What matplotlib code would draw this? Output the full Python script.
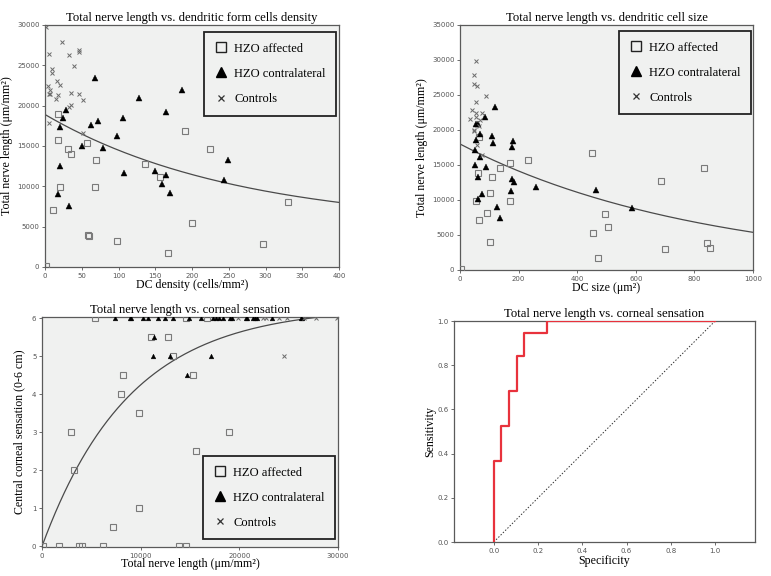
import numpy as np
import matplotlib
matplotlib.use("Agg")
import matplotlib.pyplot as plt
from matplotlib.lines import Line2D

# ---------------- Data ----------------
# Panel 1: DC density vs total nerve length
p1_ctrl_x = [2, 5, 23, 9, 9, 33, 46, 46, 39, 4.5, 7, 5, 7, 16, 20, 17, 15, 35, 46, 35, 33, 52, 6, 51]
p1_ctrl_y = [29800, 26400, 27900, 24600, 24100, 26300, 26900, 26600, 24900, 22400, 21900, 21400, 21400,
             23000, 22500, 21300, 20800, 21600, 21400, 20100, 19800, 20700, 17800, 16600]
p1_contra_x = [68, 186, 128, 164, 28.6, 25, 106.6, 72, 62.6, 21, 98, 50, 78.5, 249, 21, 107.5, 150, 164,
               159, 243, 170, 17.7, 32]
p1_contra_y = [23400, 21900, 21000, 19200, 19500, 18500, 18500, 18100, 17600, 17300, 16200, 15000, 14800,
               13300, 12500, 11600, 11900, 11400, 10300, 10800, 9150, 9000, 7500]
p1_aff_x = [17, 191, 17, 57, 31, 36, 224.5, 69, 136.5, 157, 20, 68, 11, 331, 200, 58.5, 59.4, 98, 296.6, 167, 1]
p1_aff_y = [19000, 16800, 15700, 15400, 14600, 14000, 14600, 13300, 12800, 11100, 9900, 9900, 7100, 8000,
            5400, 4000, 3800, 3200, 2900, 1700, 100]
p1_fit = dict(c=5000, a=13900, k=0.00383)   # y = c + a*exp(-k x)

# Panel 2: DC size vs total nerve length
p2_ctrl_x = [55, 48, 48, 58, 89, 56, 42, 55, 76, 35, 53, 69, 64, 47, 47, 59, 76]
p2_ctrl_y = [29900, 27800, 26500, 26300, 24800, 24000, 22900, 22400, 22400, 21500, 21900, 21400, 20600,
             20000, 19800, 17800, 16400]
p2_contra_x = [121, 86.5, 56, 62, 68, 108, 56, 114, 182, 176, 52, 68, 51, 87.6, 62.6, 176, 184, 260.5, 174,
               463, 76, 61, 127, 587, 136.5]
p2_contra_y = [23300, 21800, 20900, 20800, 19400, 19100, 18500, 18100, 18400, 17500, 17200, 16200, 15000,
               14700, 13300, 13000, 12500, 11900, 11300, 11400, 10800, 10200, 9000, 8900, 7400]
p2_aff_x = [66, 449, 232, 169.5, 135, 833, 61, 109, 686, 101, 56, 172, 93, 496, 65, 505, 454, 101, 843, 852,
            698.5, 471, 2]
p2_aff_y = [19000, 16700, 15700, 15300, 14600, 14600, 13900, 13300, 12700, 11000, 9800, 9900, 8100, 8000,
            7100, 6100, 5300, 4000, 3800, 3100, 3000, 1700, 100]
p2_fit = dict(a=18000, k=0.0012077)          # y = a*exp(-k x)

# Panel 3: total nerve length vs corneal sensation
p3_aff_x = [5360, 14600, 16690, 11020, 12740, 13320, 8160, 15340, 7960, 9880, 2970, 18980, 15640, 3200,
            9840, 7150, 100, 1750, 3780, 4010, 6170, 13920, 14600]
p3_aff_y = [6, 6, 6, 5.5, 5.5, 5, 4.5, 4.5, 4, 3.5, 3, 3, 2.5, 2, 1, 0.5, 0, 0, 0, 0, 0, 0, 0]
p3_contra_x = [7420, 8870, 9030, 10210, 10720, 11760, 12440, 13250, 14870, 16080, 17360, 17630, 17900,
               18300, 19050, 19280, 20630, 20800, 21410, 21610, 21740, 23260, 26230, 26330,
               11390, 11290, 12980, 17160, 14660]
p3_contra_y = [6] * 24 + [5.5, 5, 5, 5, 4.5]
p3_ctrl_x = [19820, 22420, 22750, 24040, 24840, 26530, 27810, 29900, 24540]
p3_ctrl_y = [6, 6, 6, 6, 6, 6, 6, 6, 5]
p3_fit = dict(a=6.3, k=1.121e-4)             # y = a*(1-exp(-k x))

# Panel 4: ROC curve
roc_fpr = [0, 0, 0.034, 0.069, 0.103, 0.138, 0.241, 1.0]
roc_tpr = [0, 0.368, 0.526, 0.684, 0.842, 0.947, 1.0, 1.0]

legend_labels = ["HZO affected", "HZO contralateral", "Controls"]

# ---------------- Style ----------------
SERIF = "Liberation Serif"
BG = "#f0f1f0"
SPINE = "#5a5a5a"
TICKC = "#555555"

fig = plt.figure(figsize=(7.71, 5.76), dpi=100)


def style_axes(ax, bg=BG):
    ax.set_facecolor(bg)
    for s in ax.spines.values():
        s.set_color(SPINE)
        s.set_linewidth(0.9)
    ax.tick_params(axis="both", labelsize=5, colors=TICKC, length=2.5, width=0.6, pad=1.5)
    for lab in ax.get_xticklabels() + ax.get_yticklabels():
        lab.set_fontfamily("DejaVu Sans")


def scatter3(ax, ax_x, ax_y, co_x, co_y, ct_x, ct_y, sq=4.2, tri=3.8, xs=3.0):
    ax.plot(ax_x, ax_y, ls="none", marker="s", ms=sq, mfc="none", mec="#7a7a7a", mew=0.8, zorder=3)
    ax.plot(co_x, co_y, ls="none", marker="^", ms=tri, mfc="black", mec="black", mew=0.3, zorder=3)
    ax.plot(ct_x, ct_y, ls="none", marker="x", ms=xs, mec="#6a6a6a", mew=0.7, zorder=3)


def add_legend(ax, anchor):
    handles = [
        Line2D([], [], ls="none", marker="s", ms=6.5, mfc="none", mec="#222222", mew=1.0),
        Line2D([], [], ls="none", marker="^", ms=7.5, mfc="black", mec="black"),
        Line2D([], [], ls="none", marker="x", ms=5, mec="#333333", mew=0.9),
    ]
    leg = ax.legend(handles, legend_labels, loc="upper left", bbox_to_anchor=anchor,
                    prop={"family": SERIF, "size": 9}, frameon=True, fancybox=False,
                    borderpad=0.85, labelspacing=1.05, handletextpad=0.55, handlelength=1.0,
                    borderaxespad=0)
    fr = leg.get_frame()
    fr.set_edgecolor("#222222")
    fr.set_linewidth(1.3)
    fr.set_facecolor(BG)
    fr.set_alpha(1)
    return leg


title_kw = dict(fontfamily=SERIF, fontsize=9.1, pad=3)
label_kw = dict(fontfamily=SERIF, fontsize=8.6)

# ---- Panel 1 ----
ax1 = fig.add_axes([0.0584, 0.5365, 0.3813, 0.4201])
scatter3(ax1, p1_aff_x, p1_aff_y, p1_contra_x, p1_contra_y, p1_ctrl_x, p1_ctrl_y)
xx = np.linspace(0, 400, 300)
ax1.plot(xx, p1_fit["c"] + p1_fit["a"] * np.exp(-p1_fit["k"] * xx), color="#4a4a4a", lw=0.9, zorder=2)
ax1.set_xlim(0, 400)
ax1.set_ylim(0, 30000)
ax1.set_xticks(np.arange(0, 401, 50))
ax1.set_yticks(np.arange(0, 30001, 5000))
style_axes(ax1)
ax1.set_title("Total nerve length vs. dendritic form cells density", **title_kw)
ax1.set_xlabel("DC density (cells/mm²)", labelpad=0, **label_kw)
ax1.set_ylabel("Total nerve length (μm/mm²)", labelpad=3, **label_kw)
add_legend(ax1, (0.541, 0.971))

# ---- Panel 2 ----
ax2 = fig.add_axes([0.5966, 0.5313, 0.3800, 0.4253])
scatter3(ax2, p2_aff_x, p2_aff_y, p2_contra_x, p2_contra_y, p2_ctrl_x, p2_ctrl_y)
xx = np.linspace(0, 1000, 300)
ax2.plot(xx, p2_fit["a"] * np.exp(-p2_fit["k"] * xx), color="#4a4a4a", lw=0.9, zorder=2)
ax2.set_xlim(0, 1000)
ax2.set_ylim(0, 35000)
ax2.set_xticks(np.arange(0, 1001, 200))
ax2.set_yticks(np.arange(0, 35001, 5000))
style_axes(ax2)
ax2.set_title("Total nerve length vs. dendritic cell size", **title_kw)
ax2.set_xlabel("DC size (μm²)", labelpad=0, **label_kw)
ax2.set_ylabel("Total nerve length (μm/mm²)", labelpad=3, **label_kw)
add_legend(ax2, (0.543, 0.976))

# ---- Panel 3 ----
ax3 = fig.add_axes([0.0545, 0.0503, 0.3839, 0.3993])
scatter3(ax3, p3_aff_x, p3_aff_y, p3_contra_x, p3_contra_y, p3_ctrl_x, p3_ctrl_y, sq=3.8, tri=3.4, xs=2.8)
xx = np.linspace(0, 30000, 400)
ax3.plot(xx, p3_fit["a"] * (1 - np.exp(-p3_fit["k"] * xx)), color="#4a4a4a", lw=0.9, zorder=2)
ax3.set_xlim(0, 30000)
ax3.set_ylim(-0.02, 6.03)
ax3.set_xticks([0, 10000, 20000, 30000])
ax3.set_yticks(range(0, 7))
style_axes(ax3)
ax3.set_title("Total nerve length vs. corneal sensation", **title_kw)
ax3.set_xlabel("Total nerve length (μm/mm²)", labelpad=-0.5, **label_kw)
ax3.set_ylabel("Central corneal sensation (0-6 cm)", labelpad=5, **label_kw)
add_legend(ax3, (0.544, 0.396))

# ---- Panel 4 ----
ax4 = fig.add_axes([0.5888, 0.0590, 0.3904, 0.3837])
ax4.plot(roc_fpr, roc_tpr, drawstyle="steps-post", color="#e8323c", lw=1.6, zorder=3)
ax4.plot([0, 1], [0, 1], color="#333333", lw=0.7, ls=(0, (1.5, 1.8)), zorder=2)
ax4.set_xlim(-0.18, 1.18)
ax4.set_ylim(0, 1.0)
ax4.set_xticks(np.arange(0, 1.01, 0.2))
ax4.set_yticks(np.arange(0, 1.01, 0.2))
ax4.set_xticklabels([f"{v:.1f}" for v in np.arange(0, 1.01, 0.2)])
ax4.set_yticklabels([f"{v:.1f}" for v in np.arange(0, 1.01, 0.2)])
style_axes(ax4, bg="white")
ax4.set_title("Total nerve length vs. corneal sensation", **title_kw)
ax4.set_xlabel("Specificity", labelpad=1, **label_kw)
ax4.set_ylabel("Sensitivity", labelpad=1, **label_kw)

fig.savefig("out.png", dpi=100)
